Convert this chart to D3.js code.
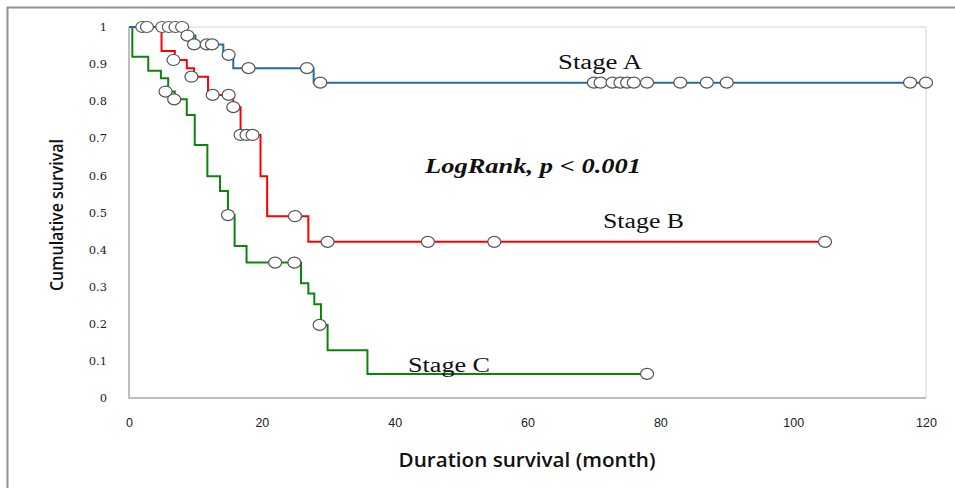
<!DOCTYPE html>
<html>
<head>
<meta charset="utf-8">
<script src="https://cdn.jsdelivr.net/npm/d3@7"></script>
<style>
  body { margin: 0; background: #fff; }
  svg { display: block; }
</style>
</head>
<body>
<div id="chart"></div>
<script>
// Kaplan-Meier curves, values (month, survival)
const stepsA = [[0,1],[8.7,0.977],[10,0.953],[14.2,0.925],[15.7,0.889],[27.8,0.85],[120,0.85]];
const censorA = [[2,1],[2.7,1],[5,1],[6,1],[7,1],[8,1],[8.8,0.977],[9.8,0.953],[11.7,0.953],[12.5,0.953],[15,0.925],
                 [18,0.889],[26.8,0.889],[28.8,0.85],[70,0.85],[71,0.85],[72.8,0.85],[74,0.85],[75,0.85],[76,0.85],
                 [78,0.85],[83,0.85],[87,0.85],[90,0.85],[117.6,0.85],[120,0.85]];

const stepsB = [[0,1],[4.9,0.935],[6.9,0.911],[8.7,0.889],[9.8,0.866],[11.9,0.817],[15.7,0.784],[16.8,0.709],
                [19.8,0.598],[20.8,0.49],[27,0.421],[105,0.421]];
const censorB = [[6.7,0.911],[9.4,0.866],[12.6,0.817],[15,0.817],[15.7,0.784],[16.8,0.709],[17.7,0.709],[18.6,0.709],
                 [25,0.49],[29.9,0.421],[45,0.421],[55,0.421],[104.8,0.421]];

const stepsC = [[0,1],[0.5,0.92],[2.9,0.882],[4.8,0.862],[5.9,0.826],[6.9,0.805],[8.7,0.763],[9.9,0.682],[11.8,0.598],
                [13.7,0.558],[14.9,0.493],[15.9,0.41],[17.7,0.365],[25.9,0.309],[27,0.282],[27.9,0.253],[28.9,0.197],
                [29.9,0.129],[35.9,0.065],[78,0.065]];
const censorC = [[5.5,0.826],[6.8,0.805],[14.9,0.493],[22,0.365],[24.9,0.365],[28.7,0.197],[78,0.065]];

const xTicks = [0, 20, 40, 60, 80, 100, 120];
const yTicks = [0, 0.1, 0.2, 0.3, 0.4, 0.5, 0.6, 0.7, 0.8, 0.9, 1];
const yLabels = ["0", "0.1", "0.2", "0.3", "0.4", "0.5", "0.6", "0.7", "0.8", "0.9", "1"];

const W = 955, H = 488;
const svg = d3.select("#chart").append("svg")
  .attr("width", W).attr("height", H);

// outer frame (cut off at right/bottom like the picture)
svg.append("rect")
  .attr("x", 7.5).attr("y", 7.5)
  .attr("width", 1000).attr("height", 1000)
  .attr("fill", "none").attr("stroke", "#8f8f8f").attr("stroke-width", 2);

const x = d3.scaleLinear().domain([0, 120]).range([129, 926]);
const y = d3.scaleLinear().domain([0, 1]).range([398, 27]);

// plot area border
svg.append("rect")
  .attr("x", x(0)).attr("y", y(1))
  .attr("width", x(120) - x(0)).attr("height", y(0) - y(1))
  .attr("fill", "none").attr("stroke", "#d4d4d4").attr("stroke-width", 1);
svg.append("path")
  .attr("d", `M${x(0)},${y(1)}V${y(0)}H${x(120)}`)
  .attr("fill", "none").attr("stroke", "#b0b0b0").attr("stroke-width", 1.5);

// axes
const yAxis = svg.append("g")
  .attr("transform", `translate(${x(0)},0)`)
  .call(d3.axisLeft(y).tickValues(yTicks).tickSize(0).tickPadding(22)
    .tickFormat((d, i) => yLabels[i]));
yAxis.select(".domain").remove();
yAxis.selectAll("text")
  .attr("font-family", "'DejaVu Serif', serif")
  .attr("font-size", 11.5).attr("fill", "#222");

const xAxis = svg.append("g")
  .attr("transform", `translate(0,${y(0)})`)
  .call(d3.axisBottom(x).tickValues(xTicks).tickSize(0).tickPadding(20));
xAxis.select(".domain").remove();
xAxis.selectAll("text")
  .attr("font-family", "'Liberation Sans Narrow', 'Liberation Sans', sans-serif")
  .attr("font-size", 12.5).attr("fill", "#222");

// axis titles
svg.append("text")
  .attr("transform", "translate(63,215) rotate(-90)")
  .attr("text-anchor", "middle")
  .attr("font-family", "'Open Sans', sans-serif")
  .attr("font-weight", 600).attr("font-size", 18).attr("fill", "#111")
  .attr("textLength", 152).attr("lengthAdjust", "spacingAndGlyphs")
  .text("Cumulative survival");
svg.append("text")
  .attr("x", 527).attr("y", 467)
  .attr("text-anchor", "middle")
  .attr("font-family", "'Open Sans', sans-serif")
  .attr("font-weight", 600).attr("font-size", 19).attr("fill", "#111")
  .attr("textLength", 257).attr("lengthAdjust", "spacingAndGlyphs")
  .text("Duration survival (month)");

// curves
const line = d3.line()
  .x(d => x(d[0])).y(d => y(d[1]))
  .curve(d3.curveStepAfter);

const series = [
  { steps: stepsC, censor: censorC, color: "#0a850a" },
  { steps: stepsB, censor: censorB, color: "#ff0000" },
  { steps: stepsA, censor: censorA, color: "#1f6ea8" }
];

series.forEach(s => {
  svg.append("path")
    .datum(s.steps)
    .attr("fill", "none")
    .attr("stroke", s.color)
    .attr("stroke-width", 2)
    .attr("d", line);
});

series.forEach(s => {
  svg.append("g").selectAll("ellipse")
    .data(s.censor)
    .enter().append("ellipse")
    .attr("cx", d => x(d[0]))
    .attr("cy", d => y(d[1]))
    .attr("rx", 6.5).attr("ry", 5.5)
    .attr("fill", "#fff")
    .attr("stroke", "#555")
    .attr("stroke-width", 1.2);
});

// annotations
const serif = "'Liberation Serif', 'Times New Roman', serif";
const labels = [
  { text: "Stage A", x: 558, y: 69, len: 84 },
  { text: "Stage B", x: 603, y: 228, len: 81 },
  { text: "Stage C", x: 408, y: 372, len: 82 }
];
labels.forEach(l => {
  svg.append("text").attr("x", l.x).attr("y", l.y)
    .attr("font-family", serif).attr("font-size", 20.5).attr("fill", "#111")
    .attr("textLength", l.len).attr("lengthAdjust", "spacingAndGlyphs")
    .text(l.text);
});
svg.append("text").attr("x", 425).attr("y", 173)
  .attr("font-family", serif).attr("font-size", 22)
  .attr("font-weight", "bold").attr("font-style", "italic").attr("fill", "#111")
  .attr("textLength", 216).attr("lengthAdjust", "spacingAndGlyphs")
  .text("LogRank, p < 0.001");
</script>
</body>
</html>
